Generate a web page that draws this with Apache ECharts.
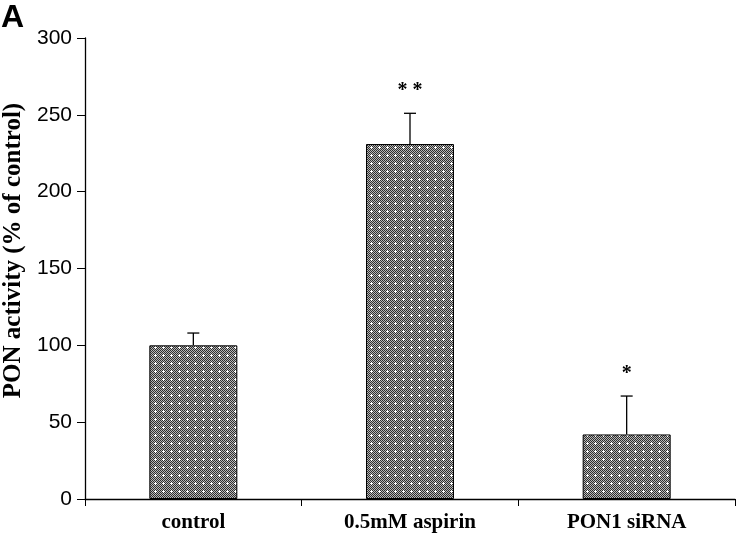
<!DOCTYPE html>
<html>
<head>
<meta charset="utf-8">
<script src="https://cdn.jsdelivr.net/npm/echarts@6/dist/echarts.min.js"></script>
<style>
  html, body { margin: 0; padding: 0; background: #fff; }
  #chart { width: 736px; height: 535px; }
</style>
</head>
<body>
<div id="chart"></div>
<script>
const categories = ['control', '0.5mM aspirin', 'PON1 siRNA'];
const activity = [100, 231, 42];
const errors = [8, 20, 25];
const marks = ['', '* *', '*'];
const yTicks = [0, 50, 100, 150, 200, 250, 300];

// dotted grey fill like the printed bars
const makePattern = () => {
    const c = document.createElement('canvas');
    c.width = 8; c.height = 8;
    const ctx = c.getContext('2d');
    for (let y = 0; y < 8; y++) {
        for (let x = 0; x < 8; x++) {
            ctx.fillStyle = (x + y) % 2 === 0 ? '#2e2e2e' : '#b8b8b8';
            ctx.fillRect(x, y, 1, 1);
        }
    }
    ctx.fillStyle = '#ffffff';
    ctx.fillRect(3, 2, 1, 3);
    ctx.fillRect(2, 3, 3, 1);
    return c;
};

const chart = echarts.init(document.getElementById('chart'));
const option = {
    animation: false,
    graphic: [{
        type: 'text', left: 1, top: 2,
        style: { text: 'A', font: 'bold 32px "Liberation Sans", Arial', fill: '#000' }
    }],
    grid: { left: 85, right: 1, top: 38, bottom: 36, outerBoundsMode: 'none', containLabel: false },
    xAxis: {
        type: 'category',
        data: categories,
        axisLine: { lineStyle: { color: '#000', width: 1.3 } },
        axisTick: { show: true, length: 7, lineStyle: { color: '#000' } },
        axisLabel: {
            margin: 13,
            fontFamily: '"Liberation Serif", "Times New Roman", serif',
            fontWeight: 'bold',
            fontSize: 21,
            color: '#000'
        }
    },
    yAxis: {
        type: 'value',
        min: yTicks[0],
        max: yTicks[yTicks.length - 1],
        interval: 50,
        name: 'PON activity (% of control)',
        nameLocation: 'middle',
        nameGap: 55,
        nameTextStyle: {
            fontFamily: '"Liberation Serif", "Times New Roman", serif',
            fontWeight: 'bold',
            fontSize: 25,
            color: '#000',
            padding: [0, 0, 0, 36]
        },
        splitLine: { show: false },
        axisLine: { show: true, lineStyle: { color: '#000', width: 1.3 } },
        axisTick: { show: true, length: 8, lineStyle: { color: '#000' } },
        axisLabel: {
            margin: 13,
            fontFamily: '"Liberation Sans", Arial, sans-serif',
            fontSize: 21,
            color: '#000'
        }
    },
    series: [
        {
            type: 'bar',
            data: activity,
            barWidth: 88,
            itemStyle: {
                color: { image: makePattern(), repeat: 'repeat' },
                borderColor: '#000',
                borderWidth: 1
            }
        },
        {
            type: 'custom',
            data: activity.map((v, i) => [i, v, errors[i]]),
            z: 5,
            renderItem: (params, api) => {
                const base = api.coord([api.value(0), api.value(1)]);
                const top = api.coord([api.value(0), api.value(1) + api.value(2)]);
                const children = [
                    { type: 'line', shape: { x1: base[0], y1: base[1], x2: top[0], y2: top[1] },
                      style: { stroke: '#000', lineWidth: 1.3 } },
                    { type: 'line', shape: { x1: top[0] - 6, y1: top[1], x2: top[0] + 6, y2: top[1] },
                      style: { stroke: '#000', lineWidth: 1.3 } }
                ];
                const mark = marks[params.dataIndex];
                if (mark) {
                    children.push({
                        type: 'text',
                        x: top[0], y: top[1] - 12,
                        style: { text: mark, fill: '#000', align: 'center', verticalAlign: 'bottom',
                                 font: 'bold 20px "Liberation Serif", serif' }
                    });
                }
                return { type: 'group', children: children };
            }
        }
    ]
};
chart.setOption(option);
</script>
</body>
</html>
